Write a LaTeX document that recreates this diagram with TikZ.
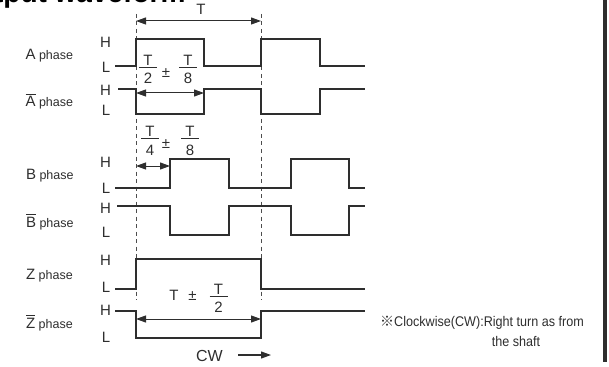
\documentclass[tikz,border=0pt]{standalone}
\usepackage{fontspec}
\setmainfont{Liberation Sans}
\newfontfamily\cjkf{Noto Sans CJK JP}
\newfontfamily\notef[FakeStretch=0.9]{Liberation Sans}
\usetikzlibrary{arrows.meta}
\definecolor{ink}{HTML}{2E2E2E}
\newcommand\ovl[1]{\leavevmode\vbox{\hrule height 0.9pt depth 0pt\kern1.6pt\hbox{#1}}}
\newcommand\frc[5]{%
  \node[lbl,anchor=base] (#1n) at (#2,#3-2) {#4};
  \node[lbl,anchor=base] (#1d) at (#2,#3+16.5) {#5};
  \draw[ink,line width=1pt] (#2-9,#3) -- (#2+9,#3);}
\begin{document}
\begin{tikzpicture}[x=1pt,y=-1pt,
  wave/.style={draw=ink,line width=1.4pt,line join=miter},
  guide/.style={draw=ink!85,line width=0.9pt,dash pattern=on 4pt off 3.5pt},
  dim/.style={draw=ink,line width=1pt,{Triangle[length=10pt,width=7pt]}-{Triangle[length=10pt,width=7pt]}},
  lbl/.style={inner sep=0pt,text=ink,font=\fontsize{15}{15}\selectfont},
  hl/.style={inner sep=0pt,text=ink,font=\fontsize{15}{15}\selectfont},
  ph/.style={inner sep=0pt,anchor=base west,text=ink,font=\fontsize{15}{15}\selectfont},
  note/.style={inner sep=0pt,text=ink,font=\fontsize{14}{14}\notef}]
\useasboundingbox (0,0) rectangle (609,366);

% title (cut off at the top)
\node[inner sep=0pt,anchor=base west,font=\fontsize{28}{28}\selectfont\bfseries] (title) at (-45,3) {Output waveform};

% right border
\draw[ink,line width=3.5pt] (605,0) -- (605,362);

% guide lines
\coordinate (g1t) at (136,14); \coordinate (g1b) at (136,300);
\coordinate (g2t) at (261,14); \coordinate (g2b) at (261,300);
\draw[guide] (g1t) -- (g1b);
\draw[guide] (g2t) -- (g2b);

% phase labels
\node[ph] (la) at (25.5,60) {A\hspace{0.22em}{\fontsize{12.5}{12.5}\selectfont phase}};
\node[ph] (lab) at (25.5,107) {\ovl{A}\hspace{0.22em}{\fontsize{12.5}{12.5}\selectfont phase}};
\node[ph] (lb) at (26,179) {B\hspace{0.22em}{\fontsize{12.5}{12.5}\selectfont phase}};
\node[ph] (lbb) at (26,227) {\ovl{B}\hspace{0.22em}{\fontsize{12.5}{12.5}\selectfont phase}};
\node[ph] (lz) at (26,279) {Z\hspace{0.22em}{\fontsize{12.5}{12.5}\selectfont phase}};
\node[ph] (lzb) at (26,328) {\ovl{Z}\hspace{0.22em}{\fontsize{12.5}{12.5}\selectfont phase}};

% H / L labels
\node[hl] (ha) at (105.5,42.5) {H};   \node[hl] (lla) at (106,67) {L};
\node[hl] (hab) at (105.5,90) {H};    \node[hl] (llab) at (106,110.5) {L};
\node[hl] (hb) at (105.5,162) {H};    \node[hl] (llb) at (106,188) {L};
\node[hl] (hbb) at (105.5,208) {H};   \node[hl] (llbb) at (106,232.5) {L};
\node[hl] (hz) at (105.5,260) {H};    \node[hl] (llz) at (106,287) {L};
\node[hl] (hzb) at (105.5,310) {H};   \node[hl] (llzb) at (106,337) {L};

% waveforms
\draw[wave] (115,66) -- (136,66) -- (136,39) -- (204,39) -- (204,66) -- (261,66) -- (261,39) -- (320,39) -- (320,66) -- (365,66);
\draw[wave] (118,89) -- (136,89) -- (136,114) -- (204,114) -- (204,89) -- (261,89) -- (261,114) -- (320,114) -- (320,89) -- (365,89);
\draw[wave] (115,188) -- (170,188) -- (170,159) -- (229,159) -- (229,188) -- (291,188) -- (291,159) -- (349,159) -- (349,188) -- (365,188);
\draw[wave] (117,206) -- (170,206) -- (170,235) -- (229,235) -- (229,206) -- (291,206) -- (291,235) -- (349,235) -- (349,206) -- (365,206);
\draw[wave] (115,289) -- (136,289) -- (136,259) -- (261,259) -- (261,289) -- (365,289);
\draw[wave] (115,311) -- (136,311) -- (136,338) -- (261,338) -- (261,311) -- (365,311);

% T
\coordinate (t1) at (136,21); \coordinate (t2) at (261,21);
\draw[dim] (t1) -- (t2);
\node[lbl] (tl) at (201,9) {T};

% T/2 +- T/8
\coordinate (a1) at (136,93); \coordinate (a2) at (204,93);
\draw[dim] (a1) -- (a2);
\frc{fa}{148}{67.3}{T}{2}
\node[lbl] (pma) at (166,73) {±};
\frc{fb}{188}{67.3}{T}{8}

% T/4 +- T/8
\coordinate (b1) at (136,166); \coordinate (b2) at (170,166);
\draw[dim] (b1) -- (b2);
\frc{fc}{150}{139}{T}{4}
\node[lbl] (pmb) at (166,144) {±};
\frc{fd}{190}{139}{T}{8}

% T +- T/2
\coordinate (z1) at (136,319); \coordinate (z2) at (261,319);
\draw[dim] (z1) -- (z2);
\node[lbl] (tz) at (174,295) {T};
\node[lbl] (pmz) at (192.5,296) {±};
\frc{fe}{218.5}{296}{T}{2}

% CW
\node[inner sep=0pt,text=ink,font=\fontsize{16}{16}\selectfont] (cw) at (209.5,356) {CW};
\coordinate (cw1) at (238,355); \coordinate (cw2) at (271,355);
\draw[draw=ink,line width=1.1pt,-{Triangle[length=10pt,width=7pt]}] (cw1) -- (cw2);

% note
\node[note,anchor=west] (n1) at (380,323) {{\cjkf ※}Clockwise(CW):Right turn as from};
\node[note] (n2) at (516,341) {the shaft};
\end{tikzpicture}
\end{document}
